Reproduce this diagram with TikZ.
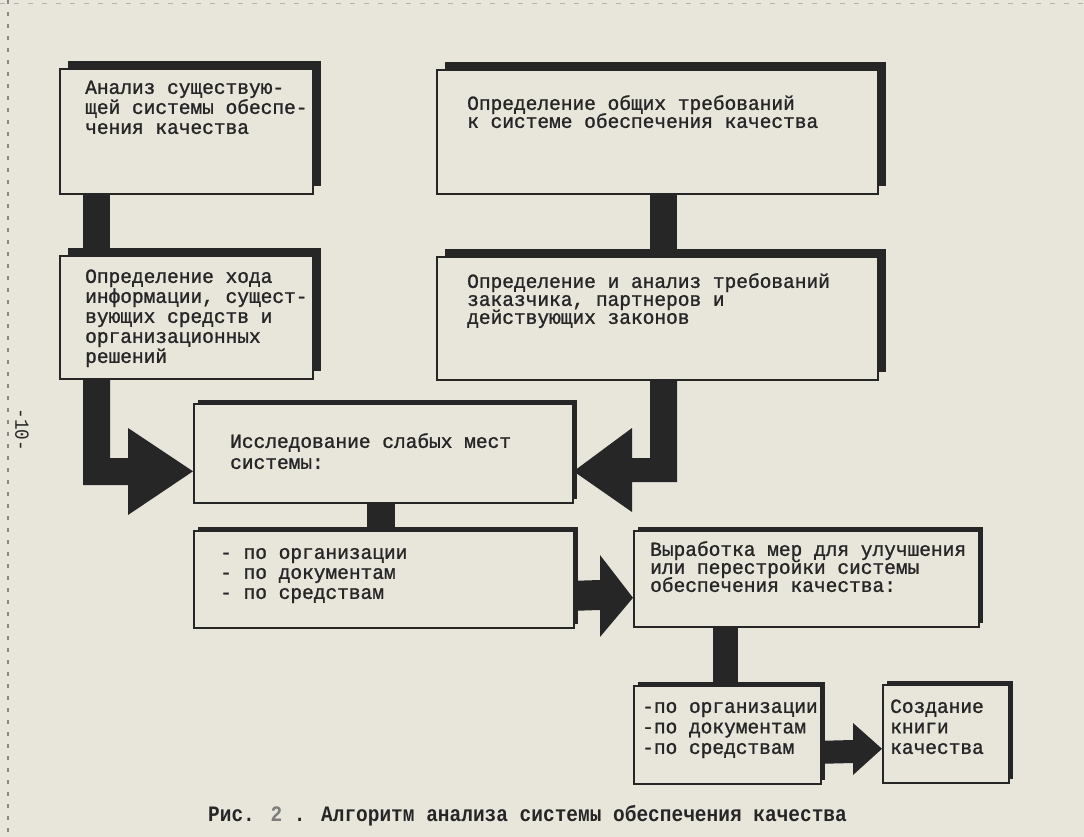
\documentclass[tikz,border=0pt]{standalone}
\usepackage{fontspec}
\usetikzlibrary{shadows,calc}
\newfontfamily\tw[FakeStretch=0.975,FakeBold=1.2]{Liberation Mono}
\newfontfamily\twb[FakeStretch=0.885]{Liberation Mono}
\definecolor{paper}{HTML}{E8E5DB}
\definecolor{ink}{HTML}{262626}
\newcommand{\hp}{\vphantom{Бб}}
\begin{document}
\lineskiplimit=-50pt
\begin{tikzpicture}[x=1pt,y=-1pt,
  box/.style={draw=ink,line width=1.6pt,fill=paper,inner sep=0pt,anchor=north west},
  shA/.style={drop shadow={shadow xshift=8pt,shadow yshift=8pt,fill=ink,opacity=1}},
  shB/.style={drop shadow={shadow xshift=4pt,shadow yshift=4pt,fill=ink,opacity=1}},
  txt/.style={anchor=north west,inner sep=0pt,align=left,text=ink,
    font={\tw\fontsize{20}{#1}\selectfont}},
  captxt/.style={inner sep=0pt,text=ink,font={\twb\bfseries\fontsize{22}{22}\selectfont}},
  bar/.style={fill=ink}]
\useasboundingbox (0,0) rectangle (1084,837);
\fill[paper] (0,0) rectangle (1084,837);
\draw[ink!55,line width=1.2pt,dash pattern=on 4pt off 8pt] (8,0) -- (8,837);
\draw[ink!35,line width=1pt,dash pattern=on 5pt off 9pt] (0,4) -- (1084,4);

% boxes
\node[box,shA,minimum width=253pt,minimum height=125pt] (A) at (59,68) {};
\node[box,shA,minimum width=441pt,minimum height=124pt] (B) at (436,69) {};
\node[box,shA,minimum width=253pt,minimum height=123pt] (C) at (59,255) {};
\node[box,shA,minimum width=441pt,minimum height=123pt] (D) at (436,256) {};
\node[box,shB,minimum width=379pt,minimum height=99pt] (E) at (193,403) {};
\node[box,shB,minimum width=380pt,minimum height=97pt] (F) at (193,530) {};
\node[box,shB,minimum width=345pt,minimum height=96pt] (G) at (633,530) {};
\node[box,shB,minimum width=187pt,minimum height=98pt] (H) at (633,685) {};
\node[box,shB,minimum width=126pt,minimum height=98pt] (I) at (882,684) {};

% texts
\node[txt=20pt] (At) at (85,79) {\hp Анализ существую-\\щей системы обеспе-\\чения качества};
\node[txt=18pt] (Bt) at (467,95) {\hp Определение общих требований\\к системе обеспечения качества};
\node[txt=18pt] (Dt) at (467,273) {\hp Определение и анализ требований\\заказчика, партнеров и\\действующих законов};
\node[txt=20pt] (Ct) at (85,268) {\hp Определение хода\\информации, сущест-\\вующих средств и\\организационных\\решений};
\node[txt=21pt] (Et) at (230,433) {\hp Исследование слабых мест\\системы:};
\node[txt=20pt] (Ft) at (220,544) {\hp - по организации\\- по документам\\- по средствам};
\node[txt=18pt] (Gt) at (650,541) {\hp Выработка мер для улучшения\\или перестройки системы\\обеспечения качества:};
\node[txt=20.5pt] (Ht) at (642,698) {\hp -по организации\\-по документам\\-по средствам};
\node[txt=20.5pt] (It) at (890,698) {\hp Создание\\книги\\качества};

% straight connectors
\fill[bar] ([xshift=24pt]A.south west) rectangle ([xshift=51pt]C.north west);
\fill[bar] ([xshift=214pt]B.south west) rectangle ([xshift=241pt]D.north west);
\fill[bar] ([xshift=174pt]E.south west) rectangle ([xshift=202pt]F.north west);
\fill[bar] ([xshift=80pt]G.south west) rectangle ([xshift=105pt]G.south west |- H.north);

% elbow arrows into E
\fill[bar] ([xshift=24pt]C.south west) |- (128,485) -- (128,515) -- ([yshift=-18pt]E.west)
  -- (128,428) -- (128,458) -| ([xshift=51pt]C.south west) -- cycle;
\fill[bar] ([xshift=241pt]D.south west) |- (632,482) -- (632,512) -- ([yshift=-18pt]E.east)
  -- (632,428) -- (632,458) -| ([xshift=214pt]D.south west) -- cycle;

% F -> G and H -> I
\fill[bar] ([yshift=-1.5pt]F.east) -- (600,580) -- (600,555) -- ([yshift=-19pt]G.west)
  -- (600,637) -- (600,610) -- ([yshift=-31.5pt]F.east) -- cycle;
\fill[bar] ([yshift=-6pt]H.east) -- (853,740) -- (853,723) -- ([yshift=-15pt]I.west)
  -- (853,775) -- (853,763) -- ([yshift=-29pt]H.east) -- cycle;

% caption and page number
\node[captxt,anchor=base west] (capt) at (208,821) {Рис. \textcolor{ink!60}{2} . Алгоритм анализа системы обеспечения качества};
\node[rotate=-90,inner sep=0pt,text=ink,font={\twb\fontsize{20}{20}\selectfont}] (pg) at (22,430) {-10-};
\end{tikzpicture}
\end{document}
